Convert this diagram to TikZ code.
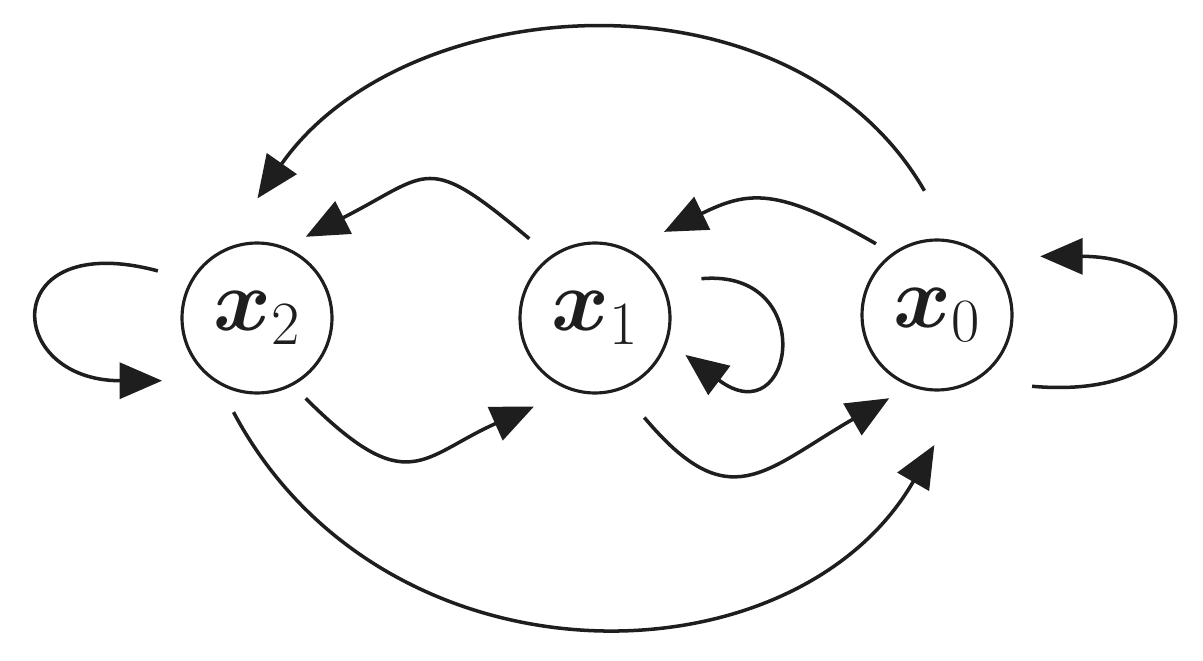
\RequirePackage{fix-cm}
\documentclass[tikz,border=0pt]{standalone}
\usepackage{amsmath}
\usetikzlibrary{arrows.meta}
\definecolor{ink}{HTML}{1E1E1E}
\begin{document}
\begin{tikzpicture}[x=0.02cm,y=0.02cm,
  state/.style={draw=ink,circle,line width=1.8pt,minimum size=3cm,inner sep=0pt,
    text=ink,font=\fontsize{50}{56}\selectfont},
  link/.style={draw=ink,line width=2pt,
    -{Triangle[length=0.85cm,width=0.72cm]}}]
\useasboundingbox (0,0) rectangle (1203,660);
\node[state] (x2) at (257,342) {$\boldsymbol{x}_2$};
\node[state] (x1) at (595,342) {$\boldsymbol{x}_1$};
\node[state] (x0) at (937,345) {$\boldsymbol{x}_0$};
% upper arcs
\draw[link,shorten <=0.54cm,shorten >=0.45cm] (x1.126) to[out=140,in=27,looseness=1.58] (x2.68);
\draw[link,shorten <=0.37cm,shorten >=0.79cm] (x0.126) to[out=150,in=26,looseness=1.29] (x1.64);
\draw[link,shorten <=1.14cm,shorten >=1.27cm] (x0.78) to[out=120,in=55,looseness=1.12] (x2.118);
% lower arcs
\draw[link,shorten <=0.36cm,shorten >=0.79cm] (x2.-62) to[out=-45,in=204,looseness=1.5] (x1.251);
\draw[link,shorten <=0.72cm,shorten >=0.47cm] (x1.-70) to[out=-50,in=210,looseness=1.49] (x0.249);
\draw[link,shorten <=0.63cm,shorten >=1.4cm] (x2.240) to[out=-62,in=240,looseness=1.2] (x0.-65);
% self loops
\draw[link,shorten <=0.68cm,shorten >=1.02cm] (x2.150) .. controls +(165:200) and +(180:210) .. (x2.235);
\draw[link,shorten <=0.78cm,shorten >=0.44cm] (x1.28) .. controls +(5:158) and +(-37:158) .. (x1.-18);
\draw[link,shorten <=1.14cm,shorten >=1.08cm] (x0.-60) .. controls +(-5:240) and +(0:228) .. (x0.50);
\end{tikzpicture}
\end{document}
